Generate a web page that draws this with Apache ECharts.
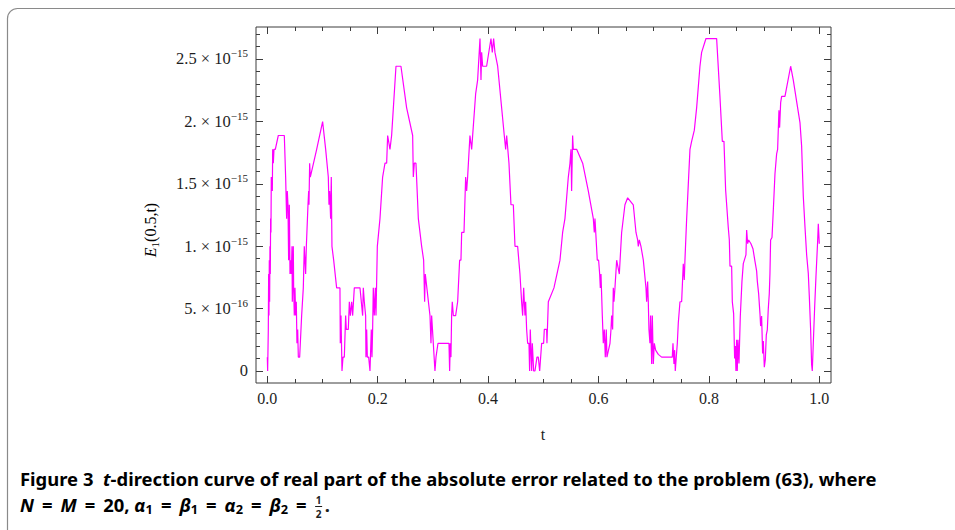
<!DOCTYPE html>
<html>
<head>
<meta charset="utf-8">
<script src="https://cdn.jsdelivr.net/npm/echarts@6/dist/echarts.min.js"></script>
<style>
html, body { margin: 0; padding: 0; background: #ffffff; }
#chart { width: 955px; height: 530px; }
</style>
</head>
<body>
<div id="chart"></div>
<script>
// Sample points t along the line x = 0.5
const tValues = [
  0.0000, 0.0006, 0.0018, 0.0024, 0.0030, 0.0036, 0.0042, 0.0048, 0.0054, 0.0060,
  0.0066, 0.0072, 0.0079, 0.0085, 0.0091, 0.0097, 0.0109, 0.0121, 0.0145, 0.0199,
  0.0308, 0.0332, 0.0344, 0.0350, 0.0362, 0.0374, 0.0386, 0.0399, 0.0411, 0.0423,
  0.0435, 0.0447, 0.0453, 0.0471, 0.0477, 0.0489, 0.0501, 0.0513, 0.0525, 0.0537,
  0.0550, 0.0562, 0.0586, 0.0598, 0.0622, 0.0652, 0.0670, 0.0682, 0.0694, 0.0707,
  0.0719, 0.0737, 0.0749, 0.0755, 0.0767, 0.0779, 0.0894, 0.1002, 0.1057, 0.1105,
  0.1117, 0.1129, 0.1147, 0.1159, 0.1171, 0.1202, 0.1256, 0.1316, 0.1322, 0.1335,
  0.1353, 0.1371, 0.1395, 0.1419, 0.1431, 0.1467, 0.1486, 0.1504, 0.1528, 0.1546,
  0.1576, 0.1679, 0.1727, 0.1739, 0.1757, 0.1781, 0.1787, 0.1800, 0.1812, 0.1836,
  0.1860, 0.1884, 0.1896, 0.1908, 0.1920, 0.1938, 0.1957, 0.1969, 0.1993, 0.2041,
  0.2089, 0.2132, 0.2162, 0.2180, 0.2222, 0.2252, 0.2331, 0.2421, 0.2524, 0.2633,
  0.2645, 0.2663, 0.2693, 0.2736, 0.2796, 0.2832, 0.2850, 0.2862, 0.2947, 0.2965,
  0.2977, 0.3007, 0.3037, 0.3056, 0.3092, 0.3291, 0.3303, 0.3315, 0.3327, 0.3339,
  0.3351, 0.3370, 0.3412, 0.3448, 0.3484, 0.3508, 0.3521, 0.3563, 0.3593, 0.3611,
  0.3629, 0.3671, 0.3702, 0.3774, 0.3810, 0.3853, 0.3871, 0.3883, 0.3901, 0.3973,
  0.4052, 0.4076, 0.4100, 0.4124, 0.4173, 0.4245, 0.4293, 0.4318, 0.4336, 0.4378,
  0.4414, 0.4457, 0.4487, 0.4535, 0.4577, 0.4607, 0.4626, 0.4644, 0.4668, 0.4680,
  0.4698, 0.4716, 0.4740, 0.4752, 0.4764, 0.4789, 0.4801, 0.4825, 0.4849, 0.4885,
  0.4909, 0.4934, 0.4970, 0.5006, 0.5018, 0.5060, 0.5066, 0.5091, 0.5193, 0.5302,
  0.5350, 0.5392, 0.5453, 0.5483, 0.5501, 0.5513, 0.5531, 0.5543, 0.5604, 0.5713,
  0.5815, 0.5906, 0.5924, 0.5936, 0.5978, 0.6002, 0.6021, 0.6033, 0.6045, 0.6069,
  0.6087, 0.6105, 0.6123, 0.6141, 0.6153, 0.6208, 0.6226, 0.6238, 0.6256, 0.6268,
  0.6280, 0.6298, 0.6329, 0.6377, 0.6419, 0.6479, 0.6528, 0.6630, 0.6679, 0.6709,
  0.6721, 0.6739, 0.6769, 0.6812, 0.6860, 0.6872, 0.6890, 0.6902, 0.6914, 0.6932,
  0.6944, 0.6963, 0.6975, 0.6993, 0.7011, 0.7035, 0.7083, 0.7144, 0.7337, 0.7349,
  0.7367, 0.7379, 0.7391, 0.7409, 0.7428, 0.7446, 0.7476, 0.7506, 0.7536, 0.7554,
  0.7566, 0.7597, 0.7657, 0.7687, 0.7736, 0.7778, 0.7838, 0.7868, 0.7947, 0.8140,
  0.8200, 0.8243, 0.8273, 0.8303, 0.8351, 0.8370, 0.8382, 0.8412, 0.8424, 0.8448,
  0.8466, 0.8478, 0.8490, 0.8502, 0.8514, 0.8527, 0.8545, 0.8569, 0.8599, 0.8623,
  0.8671, 0.8684, 0.8702, 0.8720, 0.8762, 0.8798, 0.8834, 0.8865, 0.8877, 0.8901,
  0.8925, 0.8937, 0.8955, 0.8973, 0.8986, 0.9004, 0.9022, 0.9040, 0.9058, 0.9076,
  0.9094, 0.9106, 0.9118, 0.9143, 0.9167, 0.9197, 0.9227, 0.9245, 0.9269, 0.9281,
  0.9300, 0.9318, 0.9378, 0.9481, 0.9529, 0.9589, 0.9650, 0.9680, 0.9710, 0.9740,
  0.9771, 0.9801, 0.9819, 0.9843, 0.9861, 0.9873, 0.9891, 0.9915, 0.9940, 0.9970,
  0.9982, 1.0000
];

// |Re error| E1(0.5, t), in units of 1e-15
const errValues = [
  0.111, 0, 0.333, 0.777, 0.444, 0.888, 0.555, 0.999, 0.777, 1.221,
  1.110, 1.554, 1.443, 1.554, 1.443, 1.776, 1.665, 1.776, 1.776, 1.887,
  1.887, 1.554, 1.554, 1.221, 1.443, 1.332, 0.888, 1.332, 0.777, 0.888,
  0.777, 0.999, 0.555, 0.999, 0.666, 0.444, 0.666, 0.444, 0.555, 0.222,
  0.333, 0.111, 0.111, 0.222, 0.444, 0.666, 0.999, 0.999, 0.777, 0.999,
  0.999, 1.332, 1.443, 1.332, 1.665, 1.554, 1.776, 1.998, 1.776, 1.554,
  1.332, 1.443, 1.221, 1.554, 0.999, 0.888, 0.666, 0.666, 0.222, 0.444,
  0, 0.111, 0.111, 0.444, 0.333, 0.333, 0.555, 0.444, 0.555, 0.444,
  0.666, 0.666, 0.444, 0.666, 0.555, 0.444, 0.111, 0.333, 0.111, 0.111,
  0, 0.333, 0.111, 0.333, 0.666, 0.444, 0.666, 0.444, 0.999, 1.221,
  1.554, 1.665, 1.665, 1.887, 1.776, 1.887, 2.442, 2.442, 2.109, 1.887,
  1.554, 1.665, 1.665, 1.221, 0.999, 0.888, 0.555, 0.777, 0.444, 0.222,
  0.444, 0.222, 0, 0.111, 0.222, 0.222, 0, 0.222, 0.111, 0.444,
  0.555, 0.444, 0.444, 0.555, 0.888, 0.888, 1.110, 1.110, 1.554, 1.443,
  1.554, 1.887, 1.776, 2.220, 2.331, 2.664, 2.331, 2.553, 2.442, 2.442,
  2.664, 2.553, 2.664, 2.553, 2.442, 2.109, 1.887, 1.776, 1.887, 1.665,
  1.332, 1.332, 0.999, 0.999, 0.777, 0.555, 0.444, 0.666, 0.444, 0.555,
  0.333, 0.222, 0.222, 0, 0.333, 0, 0.222, 0, 0, 0.111,
  0.111, 0, 0.222, 0.222, 0.333, 0.333, 0.222, 0.555, 0.666, 0.888,
  1.110, 1.221, 1.554, 1.665, 1.776, 1.443, 1.887, 1.776, 1.776, 1.665,
  1.443, 1.221, 1.110, 1.221, 0.888, 0.888, 0.777, 0.666, 0.777, 0.444,
  0.222, 0.333, 0.111, 0.333, 0.111, 0.222, 0.333, 0.444, 0.333, 0.666,
  0.555, 0.666, 0.888, 0.777, 1.110, 1.332, 1.388, 1.332, 1.110, 1.050,
  0.999, 1.050, 0.999, 0.888, 0.666, 0.555, 0.716, 0.555, 0.333, 0.222,
  0.444, 0.056, 0.444, 0.056, 0.222, 0.167, 0.133, 0.111, 0.111, 0.222,
  0.056, 0.167, 0, 0.111, 0.222, 0.389, 0.555, 0.555, 0.860, 0.730,
  0.888, 1.221, 1.776, 1.840, 1.930, 2.110, 2.442, 2.553, 2.664, 2.664,
  2.200, 1.840, 1.840, 1.450, 1.150, 1.050, 0.840, 0.840, 0.555, 0.460,
  0.100, 0.200, 0, 0.250, 0, 0.250, 0.060, 0.440, 0.720, 0.860,
  0.930, 1.130, 1.020, 1.050, 1.020, 0.980, 0.880, 0.800, 0.720, 0.620,
  0.460, 0.360, 0.440, 0.140, 0.240, 0.030, 0.090, 0.290, 0.330, 0.500,
  0.620, 0.780, 1.050, 1.070, 1.290, 1.580, 1.740, 1.776, 2.090, 1.950,
  2.150, 2.200, 2.200, 2.442, 2.330, 2.160, 1.990, 1.800, 1.400, 1.160,
  0.930, 0.780, 0.600, 0.330, 0.050, 0, 0.220, 0.500, 0.760, 1.040,
  1.180, 1.020
];

// Frame ticks
const xMajorTicks = [0, 0.2, 0.4, 0.6, 0.8, 1.0];
const xTickLabels = ['0.0', '0.2', '0.4', '0.6', '0.8', '1.0'];
const xMinorTicks = [0.05, 0.1, 0.15, 0.25, 0.3, 0.35, 0.45, 0.5, 0.55, 0.65, 0.7, 0.75, 0.85, 0.9, 0.95];
const yMajorTicks = [0, 0.5, 1.0, 1.5, 2.0, 2.5];
const yTickMantissa = ['0', '5.', '1.', '1.5', '2.', '2.5'];
const yTickExponent = ['', '\u221216', '\u221215', '\u221215', '\u221215', '\u221215'];
const yMinorTicks = [0.1, 0.2, 0.3, 0.4, 0.6, 0.7, 0.8, 0.9, 1.1, 1.2, 1.3, 1.4, 1.6, 1.7, 1.8, 1.9,
                     2.1, 2.2, 2.3, 2.4, 2.6, 2.7];

// Plot range including the frame padding
const X_MIN = -0.0205, X_MAX = 1.0212;
const Y_MIN = -0.0962, Y_MAX = 2.7564;

const SERIF = '"Liberation Serif", "Times New Roman", serif';
const SANS = '"Noto Sans", "Open Sans", sans-serif';
const FRAME = '#3d3d3d';
const TEXT = '#1e1e1e';

function nearestIndex(list, v) {
  let best = 0;
  for (let i = 1; i < list.length; i++) {
    if (Math.abs(list[i] - v) < Math.abs(list[best] - v)) best = i;
  }
  return best;
}

function xAxisDef(position, ticks, length, withLabels) {
  return {
    type: 'value', position, min: X_MIN, max: X_MAX,
    axisLine: { show: false, onZero: false }, splitLine: { show: false },
    axisTick: { show: true, inside: true, length, customValues: ticks,
                lineStyle: { color: FRAME, width: 1 } },
    axisLabel: withLabels ? {
      show: true, customValues: ticks, margin: 7, color: TEXT,
      fontFamily: SERIF, fontSize: 16,
      formatter: v => xTickLabels[nearestIndex(xMajorTicks, v)]
    } : { show: false }
  };
}

function yAxisDef(position, ticks, length, withLabels) {
  return {
    type: 'value', position, min: Y_MIN, max: Y_MAX,
    axisLine: { show: false, onZero: false }, splitLine: { show: false },
    axisTick: { show: true, inside: true, length, customValues: ticks,
                lineStyle: { color: FRAME, width: 1 } },
    axisLabel: withLabels ? {
      show: true, customValues: ticks, margin: 8,
      formatter: v => {
        const i = nearestIndex(yMajorTicks, v);
        return yTickExponent[i]
          ? '{m|' + yTickMantissa[i] + ' \u00d7 10}{e|' + yTickExponent[i] + '}'
          : '{m|' + yTickMantissa[i] + '}';
      },
      rich: {
        m: { fontFamily: SERIF, fontSize: 16.5, color: TEXT, lineHeight: 22 },
        e: { fontFamily: SERIF, fontSize: 11, color: TEXT, lineHeight: 12, verticalAlign: 'top' }
      }
    } : { show: false }
  };
}

// Caption layout: measure the natural width so the first line spans the caption box
const measureCtx = document.createElement('canvas').getContext('2d');
function textWidth(str, size, style) {
  measureCtx.font = style + ' ' + size + 'px ' + SANS;
  return measureCtx.measureText(str).width;
}
const CAP = 18, CAP_SUB = 12.5;
const cap1 = [
  ['Figure 3  ', 'bold'],
  ['t', 'italic bold'],
  ['-direction curve of real part of the absolute error related to the problem (63), where', 'bold']
];
const cap1Width = cap1.reduce((s, p) => s + textWidth(p[0], CAP, p[1]), 0);
const capScale = 857 / cap1Width;

const EQ = '\u2004\u200a=\u2004\u200a';
const cap2 = [
  ['N', 'bi'], [EQ, 'b'], ['M', 'bi'], [EQ + '20, ', 'b'],
  ['\u03b1', 'bi'], ['1', 'sub'], [EQ, 'b'], ['\u03b2', 'bi'], ['1', 'sub'], [EQ, 'b'],
  ['\u03b1', 'bi'], ['2', 'sub'], [EQ, 'b'], ['\u03b2', 'bi'], ['2', 'sub'], [EQ, 'b']
];
const cap2Width = cap2.reduce((s, p) => s + (p[1] === 'sub'
  ? textWidth(p[0], CAP_SUB, 'bold')
  : textWidth(p[0], CAP, p[1] === 'bi' ? 'italic bold' : 'bold')), 0);
const cap2Text = cap2.map(p => '{' + p[1] + '|' + p[0] + '}').join('');

const capRich = {
  b: { fontFamily: SANS, fontWeight: 'bold', fontSize: CAP, lineHeight: 22, color: TEXT },
  bi: { fontFamily: SANS, fontWeight: 'bold', fontStyle: 'italic', fontSize: CAP, lineHeight: 22, color: TEXT },
  sub: { fontFamily: SANS, fontWeight: 'bold', fontSize: CAP_SUB, lineHeight: 12, verticalAlign: 'bottom', color: TEXT }
};

const CAP_X = 20, CAP1_Y = 479, CAP2_Y = 505;
const fracX = CAP_X + cap2Width * capScale + 4;

const chart = echarts.init(document.getElementById('chart'), null, { renderer: 'svg', width: 955, height: 530 });

chart.setOption({
  animation: false,
  backgroundColor: '#ffffff',
  grid: {
    left: 256, top: 27, width: 575, height: 356,
    show: true, borderColor: FRAME, borderWidth: 1, backgroundColor: 'transparent',
    containLabel: false, outerBoundsMode: 'none'
  },
  xAxis: [
    xAxisDef('bottom', xMajorTicks, 7, true),
    xAxisDef('bottom', xMinorTicks, 4, false),
    xAxisDef('top', xMajorTicks, 7, false),
    xAxisDef('top', xMinorTicks, 4, false)
  ],
  yAxis: [
    yAxisDef('left', yMajorTicks, 7, true),
    yAxisDef('left', yMinorTicks, 4, false),
    yAxisDef('right', yMajorTicks, 7, false),
    yAxisDef('right', yMinorTicks, 4, false)
  ],
  series: [{
    type: 'line',
    xAxisIndex: 0, yAxisIndex: 0,
    data: tValues.map((t, i) => [t, errValues[i]]),
    showSymbol: false, symbol: 'none', silent: true,
    lineStyle: { color: '#ff00ff', width: 1.2 }
  }],
  graphic: [
    // outer rounded panel
    { type: 'rect', silent: true, shape: { x: 7.5, y: 8.5, width: 1000, height: 600, r: 10 },
      style: { fill: 'none', stroke: '#8a8a8a', lineWidth: 1.2 } },
    // axis names
    { type: 'text', silent: true, x: 543, y: 434,
      style: { text: 't', font: '16px ' + SERIF, fill: TEXT, align: 'center', verticalAlign: 'middle' } },
    { type: 'text', silent: true, x: 150, y: 230, rotation: Math.PI / 2,
      style: {
        text: '{i|E}{s|1}{n|(0.5,t)}', align: 'center', verticalAlign: 'middle',
        rich: {
          i: { fontFamily: SERIF, fontStyle: 'italic', fontSize: 16, lineHeight: 20, color: TEXT },
          s: { fontFamily: SERIF, fontSize: 11, lineHeight: 12, verticalAlign: 'bottom', color: TEXT },
          n: { fontFamily: SERIF, fontSize: 16, lineHeight: 20, color: TEXT }
        }
      } },
    // caption
    { type: 'text', silent: true, x: CAP_X, y: CAP1_Y, scaleX: capScale,
      style: { text: '{b|Figure 3  }{bi|t}{b|-direction curve of real part of the absolute error related to the problem (63), where}',
               rich: capRich, verticalAlign: 'middle' } },
    { type: 'text', silent: true, x: CAP_X, y: CAP2_Y, scaleX: capScale,
      style: { text: cap2Text, rich: capRich, verticalAlign: 'middle' } },
    { type: 'text', silent: true, x: fracX, y: CAP2_Y - 5.5,
      style: { text: '1', font: 'bold 10px ' + SANS, fill: TEXT, align: 'center', verticalAlign: 'middle' } },
    { type: 'line', silent: true, shape: { x1: fracX - 3.5, y1: CAP2_Y + 1.5, x2: fracX + 3.5, y2: CAP2_Y + 1.5 },
      style: { stroke: TEXT, lineWidth: 1 } },
    { type: 'text', silent: true, x: fracX, y: CAP2_Y + 8.5,
      style: { text: '2', font: 'bold 10px ' + SANS, fill: TEXT, align: 'center', verticalAlign: 'middle' } },
    { type: 'text', silent: true, x: fracX + 6, y: CAP2_Y, scaleX: capScale,
      style: { text: '.', font: 'bold ' + CAP + 'px ' + SANS, fill: TEXT, verticalAlign: 'middle' } }
  ]
});
</script>
</body>
</html>
